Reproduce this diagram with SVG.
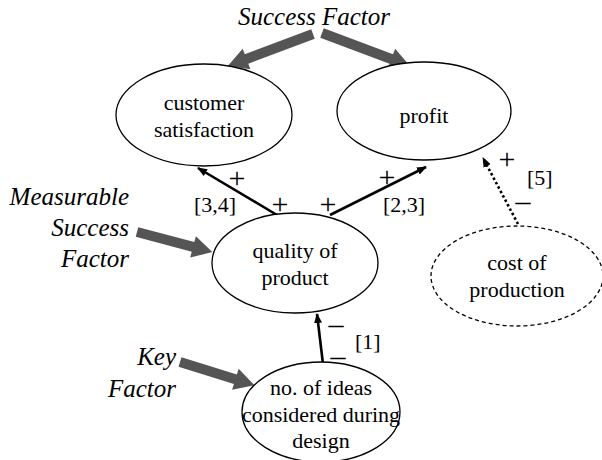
<svg xmlns="http://www.w3.org/2000/svg" width="602" height="460" viewBox="0 0 602 460">
<style>
.node{fill:#fff;stroke:#000;stroke-width:1.3}
.dashed{stroke-dasharray:4,3}
text{font-family:'Liberation Serif','Times New Roman',serif;fill:#000}
.t{font-size:22px;text-anchor:middle}
.lab{font-size:22px}
.sign{font-size:30px;text-anchor:middle}
.it{font-style:italic;font-size:25px}
.big{fill:#555}
.conn{stroke:#000;stroke-width:2.6;fill:none}
.dot{stroke-dasharray:2.5,2.5}
</style>
<defs>
<marker id="ah" markerWidth="10" markerHeight="8" refX="9" refY="4" orient="auto" markerUnits="userSpaceOnUse">
<path d="M0,0 L10,4 L0,8 Z" fill="#000"/>
</marker>
</defs>

<g id="labels-callouts">
<text class="it" x="314" y="25" text-anchor="middle">Success Factor</text>
<polygon class="big" transform="translate(313,34) rotate(159.4)" points="0,-5 71,-5 71,-11 91,0 71,11 71,5 0,5"/>
<polygon class="big" transform="translate(322,33) rotate(20.6)" points="0,-5 74,-5 74,-11 94,0 74,11 74,5 0,5"/>
<text class="it" x="129" y="205" text-anchor="end">Measurable</text>
<text class="it" x="129" y="236" text-anchor="end">Success</text>
<text class="it" x="129" y="267" text-anchor="end">Factor</text>
<polygon class="big" transform="translate(137,232) rotate(14.9)" points="0,-5 58,-5 58,-11 78,0 58,11 58,5 0,5"/>
<text class="it" x="176" y="365" text-anchor="end">Key</text>
<text class="it" x="176" y="397" text-anchor="end">Factor</text>
<polygon class="big" transform="translate(180,362) rotate(17.3)" points="0,-5 58,-5 58,-11 78,0 58,11 58,5 0,5"/>
</g>

<g id="connectors">
<line class="conn" x1="277" y1="215" x2="198" y2="168" marker-end="url(#ah)"/>
<line class="conn" x1="330" y1="215" x2="426" y2="167" marker-end="url(#ah)"/>
<line class="conn dot" x1="518" y1="224" x2="483" y2="158" marker-end="url(#ah)"/>
<line class="conn" x1="323" y1="364" x2="317" y2="314" marker-end="url(#ah)"/>
<text class="sign" x="237" y="188">+</text>
<text class="lab" x="194" y="212">[3,4]</text>
<text class="sign" x="280" y="214">+</text>
<text class="sign" x="328" y="214">+</text>
<text class="sign" x="387" y="187">+</text>
<text class="lab" x="383" y="212">[2,3]</text>
<text class="sign" x="507" y="169">+</text>
<text class="lab" x="527" y="185">[5]</text>
<text class="sign" x="523" y="211">–</text>
<text class="sign" x="336" y="334">–</text>
<text class="sign" x="338" y="366">–</text>
<text class="lab" x="355" y="349">[1]</text>
</g>

<g id="customer-satisfaction">
<ellipse class="node" cx="204" cy="115" rx="88" ry="51"/>
<text class="t" x="204" y="110">customer</text>
<text class="t" x="204" y="137">satisfaction</text>
</g>
<g id="profit">
<ellipse class="node" cx="424" cy="111" rx="87" ry="49"/>
<text class="t" x="424" y="123">profit</text>
</g>
<g id="quality-of-product">
<ellipse class="node" cx="295" cy="263" rx="83" ry="50"/>
<text class="t" x="295" y="258">quality of</text>
<text class="t" x="295" y="285">product</text>
</g>
<g id="cost-of-production">
<ellipse class="node dashed" cx="517" cy="276" rx="86" ry="50"/>
<text class="t" x="517" y="270">cost of</text>
<text class="t" x="517" y="297">production</text>
</g>
<g id="no-of-ideas">
<ellipse class="node" cx="321" cy="412" rx="79" ry="50"/>
<text class="t" x="321" y="395">no. of ideas</text>
<text class="t" x="321" y="422">considered during</text>
<text class="t" x="321" y="448">design</text>
</g>
</svg>
